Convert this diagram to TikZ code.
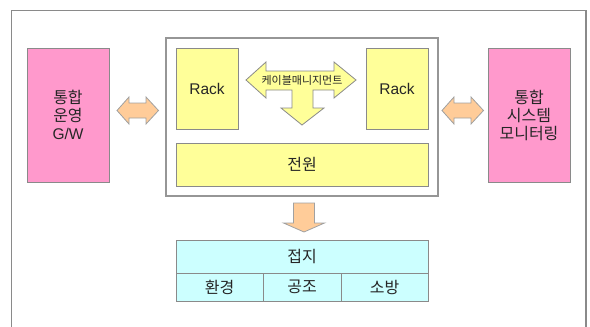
\documentclass[tikz,border=0pt]{standalone}
\usepackage{fontspec}
\setmainfont{Liberation Sans}
\newfontfamily\kr{Noto Sans CJK KR}
\definecolor{pinkfill}{HTML}{FF99CC}
\definecolor{yellowfill}{HTML}{FFFF99}
\definecolor{cyanfill}{HTML}{CCFFFF}
\definecolor{orangefill}{HTML}{FFCC99}
\definecolor{edge}{HTML}{8A8A8A}
\definecolor{ink}{HTML}{262626}
\begin{document}
\begin{tikzpicture}[x=1pt,y=-1pt,
  every node/.style={inner sep=0pt,outer sep=0pt,text=ink},
  box/.style={draw=edge,line width=0.9pt,anchor=north west},
  sidebox/.style={box,fill=pinkfill,minimum width=82pt,minimum height=134pt,
    align=center,font=\kr\fontsize{16}{18}\selectfont},
  rackbox/.style={box,fill=yellowfill,minimum width=62pt,minimum height=81pt,
    font=\fontsize{15.5}{18}\selectfont},
  cell/.style={box,fill=cyanfill,font=\kr\fontsize{16}{18}\selectfont},
  blockarrow/.style={draw=edge!80,line width=0.8pt,fill=orangefill,line join=miter}
]
\useasboundingbox (0,0) rectangle (590,327);

% open outer frame
\draw[edge,line width=1.5pt] (11.5,328) -- (11.5,10.5) -- (586,10.5) -- (586,328);

% side systems
\node[sidebox] (gw) at (27,48) {통합\\운영\\{\rmfamily\fontsize{15.5}{18}\selectfont G/W}};
\node[sidebox] (mon) at (488,48) {통합\\시스템\\모니터링};

% central rack enclosure
\node[box,draw=edge!90,line width=1.2pt,fill=white,minimum width=272pt,minimum height=158pt] (hub) at (166,38) {};
\node[rackbox] (rackL) at (176,48) {Rack};
\node[rackbox] (rackR) at (366,48) {Rack};
\node[box,fill=yellowfill,minimum width=252pt,minimum height=43pt,
  font=\kr\fontsize{16}{18}\selectfont] (power) at (176,143) {전원};

% cable management arrow
\draw[draw=edge,line width=0.8pt,fill=yellowfill,line join=miter]
  (246,80) -- (266,62) -- (266,71) -- (334,71) -- (334,62) -- (356,80)
  -- (334,98) -- (334,90) -- (313,90) -- (313,108) -- (324,108) -- (302,125)
  -- (281,108) -- (292,108) -- (292,90) -- (266,90) -- (266,98) -- cycle;
\node[font=\kr\fontsize{11}{12}\selectfont] (cable) at (302,80) {케이블매니지먼트};

% links to the side systems
\draw[blockarrow] (117,110.5) -- (129,97) -- (129,103) -- (146,103) -- (146,97)
  -- (158.5,110.5) -- (146,124) -- (146,118) -- (129,118) -- (129,124) -- cycle;
\draw[blockarrow] (442,110.5) -- (454,97) -- (454,103) -- (471,103) -- (471,97)
  -- (483.5,110.5) -- (471,124) -- (471,118) -- (454,118) -- (454,124) -- cycle;

% down arrow to the facility table
\draw[blockarrow] (293.5,203) -- (314.5,203) -- (314.5,223) -- (324.5,223)
  -- (304,232) -- (283.5,223) -- (293.5,223) -- cycle;

% facility table
\node[cell,minimum width=252pt,minimum height=33pt] (ground) at (176,240) {접지};
\node[cell,minimum width=87pt,minimum height=28pt] (env) at (176,273) {환경};
\node[cell,minimum width=78pt,minimum height=28pt] (hvac) at (263,273) {공조};
\node[cell,minimum width=87pt,minimum height=28pt] (fire) at (341,273) {소방};
\end{tikzpicture}
\end{document}
